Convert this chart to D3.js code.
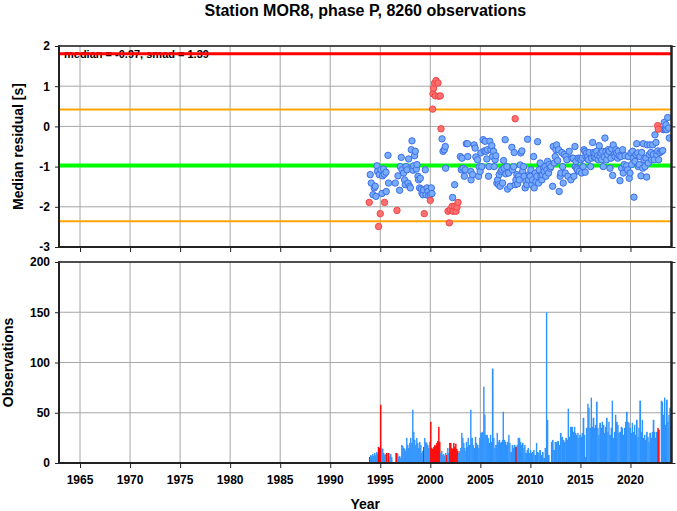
<!DOCTYPE html>
<html><head><meta charset="utf-8">
<script src="https://cdn.jsdelivr.net/npm/d3@7"></script>
<style>
body{margin:0;background:#fff}
svg{display:block}
text{font-family:"Liberation Sans",Arial,Helvetica,sans-serif;font-weight:bold;fill:#000}
</style>
</head><body>
<svg id="chart" width="677" height="511"></svg>
<script>
// ---------------- DATA ----------------
const title = "Station MOR8, phase P, 8260 observations";
const statsLabel = "median = -0.97, smad = 1.39";
const refLines = [
  {name:"upper2", value:1.81, color:"#ff0000", width:3},
  {name:"upper1", value:0.42, color:"#ffa500", width:2.2},
  {name:"median", value:-0.97, color:"#00ff00", width:4},
  {name:"lower1", value:-2.36, color:"#ffa500", width:2.2}
];
const yearTicks = [1965,1970,1975,1980,1985,1990,1995,2000,2005,2010,2015,2020];
const residualTicks = [-3,-2,-1,0,1,2];
const obsTicks = [0,50,100,150,200];
const yearDomain = [1962.9, 2024.1];

const blueResiduals = [
[1994.00,-1.20],[1994.10,-1.41],[1994.27,-1.70],[1994.40,-1.53],[1994.50,-1.49],[1994.57,-1.74],[1994.67,-0.98],[1994.73,-1.12],[1994.90,-1.20],
[1995.07,-1.08],[1995.17,-1.67],[1995.23,-1.23],[1995.33,-1.06],[1995.40,-1.19],[1995.57,-1.14],[1995.60,-1.62],[1995.77,-0.72],[1995.83,-1.41],
[1996.50,-1.41],[1996.77,-1.23],[1996.93,-1.59],[1997.00,-1.00],[1997.10,-0.77],[1997.17,-1.08],[1997.33,-1.16],[1997.43,-1.33],[1997.50,-1.45],
[1997.57,-1.00],[1997.67,-1.08],[1997.77,-1.41],[1997.83,-0.81],[1997.93,-1.49],[1998.00,-1.53],[1998.10,-0.58],[1998.17,-0.36],[1998.27,-1.09],
[1998.33,-0.98],[1998.43,-0.73],[1998.50,-0.62],[1998.60,-1.06],[1998.67,-0.95],[1998.77,-1.24],[1998.83,-1.33],[1998.93,-1.53],[1999.00,-1.29],
[1999.10,-1.56],[1999.17,-1.66],[1999.27,-1.70],[1999.33,-1.58],[1999.50,-1.08],[1999.57,-1.70],[1999.67,-1.53],[1999.77,-1.62],[1999.83,-1.72],
[2000.00,-1.70],[2000.10,-1.53],[2000.17,-1.67],[2001.17,-0.31],[2001.27,-0.62],[2001.40,-0.58],[2001.50,-0.50],[2001.53,-1.04],[2002.23,-1.77],
[2002.43,-1.45],[2003.00,-0.75],[2003.10,-1.08],[2003.17,-0.79],[2003.27,-1.04],[2003.40,-1.24],[2003.50,-1.08],[2003.60,-0.43],
[2003.72,-0.43],[2003.74,-0.75],[2004.05,-1.12],[2004.07,-1.33],[2004.22,-1.20],[2004.38,-0.46],[2004.48,-0.54],[2004.55,-0.76],[2004.72,-0.83],
[2004.82,-1.24],[2004.88,-1.01],[2004.98,-1.12],[2005.05,-0.66],[2005.15,-1.00],[2005.28,-0.33],[2005.38,-0.61],[2005.48,-0.37],[2005.55,-0.62],
[2005.65,-0.81],[2005.72,-0.58],[2005.82,-1.24],[2005.88,-1.00],[2005.95,-0.37],[2006.05,-0.58],[2006.15,-0.48],[2006.22,-0.75],[2006.32,-0.62],
[2006.38,-1.00],[2006.48,-0.83],[2006.55,-0.73],[2006.65,-1.41],[2006.72,-1.33],[2006.82,-1.45],[2006.88,-1.20],[2006.98,-1.49],[2007.05,-1.12],
[2007.15,-1.08],[2007.22,-1.41],[2007.32,-0.85],[2007.38,-1.04],[2007.48,-0.33],[2007.55,-1.18],[2007.65,-1.00],[2007.72,-1.56],[2007.82,-1.16],
[2007.98,-1.49],[2008.15,-0.52],[2008.22,-1.08],[2008.32,-1.00],[2008.38,-0.65],[2008.48,-1.45],[2008.55,-1.33],[2008.65,-1.20],[2008.72,-1.43],
[2008.82,-1.24],[2008.88,-1.33],[2008.98,-0.96],[2009.05,-0.66],[2009.15,-0.61],[2009.22,-1.12],[2009.32,-1.00],[2009.38,-1.24],[2009.48,-1.53],
[2009.55,-1.37],[2009.65,-1.45],[2009.72,-0.32],[2009.82,-1.33],[2009.88,-1.20],[2009.98,-1.24],[2010.05,-1.08],[2010.15,-1.45],[2010.22,-1.33],
[2010.32,-0.75],[2010.38,-1.53],[2010.48,-1.16],[2010.55,-1.37],[2010.65,-1.24],[2010.72,-0.38],[2010.82,-1.41],[2010.88,-1.08],[2010.98,-0.91],
[2011.05,-1.24],[2011.15,-1.33],[2011.22,-1.20],[2011.32,-1.04],[2011.38,-1.12],[2011.48,-1.00],[2011.55,-1.24],[2011.65,-1.08],[2011.72,-0.87],
[2011.82,-1.16],[2011.88,-0.95],[2011.98,-1.04],[2012.05,-1.00],[2012.22,-1.49],[2012.28,-0.50],[2012.38,-0.91],[2012.48,-0.75],[2012.55,-0.58],
[2012.62,-0.46],[2012.72,-0.85],[2012.82,-0.58],[2012.88,-1.62],[2012.98,-1.24],[2013.05,-1.16],[2013.15,-0.65],[2013.22,-1.00],[2013.28,-1.41],
[2013.38,-0.70],[2013.48,-1.16],[2013.55,-0.75],[2013.65,-0.83],[2013.75,-1.24],[2013.88,-0.62],[2014.05,-1.33],[2014.15,-0.79],
[2014.28,-0.79],[2014.35,-1.24],[2014.45,-0.50],[2014.48,-1.00],[2014.55,-0.87],[2014.62,-1.04],[2014.68,-1.08],[2014.78,-0.79],[2014.88,-1.12],
[2014.95,-0.79],[2015.05,-0.83],[2015.12,-1.16],[2015.22,-0.79],[2015.28,-1.00],[2015.35,-0.58],[2015.45,-0.62],[2015.48,-1.14],[2015.55,-0.75],
[2015.62,-0.66],[2015.72,-0.76],[2015.78,-0.83],[2015.88,-0.65],[2016.02,-1.00],[2016.12,-0.79],[2016.22,-0.40],[2016.28,-0.65],[2016.38,-0.76],
[2016.45,-0.66],[2016.55,-0.79],[2016.62,-0.62],[2016.72,-0.73],[2016.78,-0.83],[2016.88,-0.48],[2016.95,-0.75],[2017.05,-0.66],[2017.12,-0.83],
[2017.22,-0.62],[2017.28,-1.00],[2017.38,-0.76],[2017.45,-0.29],[2017.55,-0.62],[2017.62,-0.83],[2017.72,-0.70],[2017.78,-0.58],[2017.88,-0.62],
[2017.95,-1.04],[2018.05,-0.79],[2018.12,-0.56],[2018.22,-1.22],[2018.28,-0.46],[2018.38,-0.70],[2018.45,-0.75],[2018.55,-0.58],[2018.62,-0.66],
[2018.72,-0.79],[2018.78,-0.62],[2018.88,-0.73],[2018.95,-1.35],[2019.05,-0.75],[2019.12,-1.04],[2019.22,-0.58],[2019.28,-1.16],[2019.38,-0.95],
[2019.45,-0.73],[2019.55,-1.04],[2019.62,-0.98],[2019.72,-1.08],[2019.78,-0.75],[2019.88,-1.29],[2019.95,-1.16],[2020.05,-0.66],[2020.12,-0.95],
[2020.22,-0.62],[2020.28,-0.79],[2020.35,-1.76],[2020.45,-0.87],[2020.55,-0.70],[2020.62,-0.43],[2020.72,-0.66],[2020.78,-1.00],[2020.88,-0.95],
[2020.95,-0.75],[2021.05,-1.23],[2021.12,-0.65],[2021.22,-1.04],[2021.28,-0.43],[2021.35,-0.83],[2021.45,-1.00],[2021.55,-0.79],[2021.62,-1.26],
[2021.68,-0.46],[2021.78,-0.91],[2021.88,-0.70],[2021.95,-0.46],[2022.05,-0.65],[2022.12,-0.83],[2022.22,-0.46],[2022.28,-0.70],[2022.38,-0.83],
[2022.45,-0.21],[2022.55,-0.40],[2022.62,-0.70],[2022.72,-0.61],[2022.82,-0.83],[2022.95,-0.65],[2023.12,-0.62],[2023.22,-0.60],[2023.28,-0.08],
[2023.38,0.10],[2023.48,-0.08],[2023.55,0.04],[2023.62,-0.08],[2023.72,0.22],[2023.82,-0.04],[2023.88,-0.29]
];
const redResiduals = [
[1993.90,-1.89],[1994.83,-2.49],[1995.00,-2.17],[1995.43,-1.89],[1996.67,-2.09],[1999.40,-2.17],[2000.00,-1.84],
[2000.23,0.43],[2000.27,0.81],[2000.33,0.95],[2000.43,1.08],[2000.50,0.76],[2000.57,1.14],[2000.77,1.08],[2000.83,0.75],[2001.00,0.76],
[2001.07,-0.06],[2001.77,-2.11],[2001.90,-2.40],[2002.00,-2.07],[2002.17,-1.99],[2002.27,-2.11],[2002.43,-1.99],[2002.57,-2.11],
[2002.67,-2.01],[2002.77,-1.89],[2008.48,0.19],[2022.72,0.02],[2022.78,-0.07]
];

const obsYears = [
1993.88,1993.98,1994.08,1994.18,1994.28,1994.38,1994.48,1994.58,1994.68,1994.75,1994.85,1994.98,1995.08,1995.18,1995.28,1995.38,1995.48,1995.58,
1995.68,1995.78,1995.88,1995.98,1996.08,1996.18,1996.48,1996.58,1996.68,1996.78,1996.88,1996.98,1997.08,1997.18,1997.28,1997.38,1997.48,1997.58,
1997.68,1997.78,1997.88,1997.98,1998.08,1998.18,1998.28,1998.38,1998.48,1998.58,1998.68,1998.78,1998.88,1998.98,1999.08,1999.18,1999.28,1999.38,
1999.48,1999.58,1999.68,1999.78,1999.88,1999.98,2000.08,2000.18,2000.28,2000.38,2000.48,2000.58,2000.68,2000.78,2000.88,2000.98,2001.08,2001.18,
2001.28,2001.38,2001.48,2001.58,2001.68,2001.78,2001.88,2001.98,2002.08,2002.18,2002.28,2002.38,2002.48,2002.58,2002.68,2002.78,2002.88,2002.98,
2003.08,2003.18,2003.28,2003.38,2003.48,
2003.55,2003.65,2003.72,2003.82,2003.98,2004.08,2004.22,2004.32,2004.45,2004.55,2004.65,2004.78,2004.88,2004.98,2005.12,2005.22,2005.28,2005.38,
2005.48,2005.62,2005.72,2005.82,2005.95,2006.05,2006.15,2006.28,2006.38,2006.48,2006.62,2006.72,2006.82,2006.95,2007.05,2007.15,2007.22,2007.32,
2007.45,2007.55,2007.65,2007.78,2007.88,2007.98,2008.12,2008.22,2008.32,2008.48,2008.62,2008.72,2008.82,2008.95,2009.05,2009.15,2009.28,2009.38,
2009.48,2009.62,2009.72,2009.82,2009.95,2010.05,2010.15,2010.28,2010.38,2010.55,2010.65,2010.78,2010.88,2011.02,2011.15,2011.28,2011.42,2011.55,
2011.65,2011.75,2011.88,2012.05,2012.15,2012.28,2012.42,2012.55,2012.68,2012.82,2012.95,2013.08,2013.22,2013.35,2013.48,2013.62,2013.72,2013.82,
2013.95,
2014.22,2014.35,2014.45,2014.55,2014.68,2014.78,2014.88,2015.02,2015.12,2015.22,2015.35,2015.45,2015.55,2015.68,2015.78,2015.88,2016.02,2016.12,
2016.22,2016.35,2016.45,2016.55,2016.68,2016.78,2016.88,2017.02,2017.12,2017.22,2017.35,2017.45,2017.55,2017.68,2017.78,2017.88,2018.02,2018.12,
2018.22,2018.35,2018.45,2018.55,2018.68,2018.78,2018.88,2019.02,2019.12,2019.22,2019.35,2019.45,2019.55,2019.68,2019.78,2019.88,2020.02,2020.12,
2020.22,2020.35,2020.45,2020.55,2020.68,2020.78,2020.88,2021.02,2021.12,2021.22,2021.35,2021.45,2021.55,2021.68,2021.78,2021.88,2022.02,2022.12,
2022.22,2022.35,2022.45,2022.55,2022.68,2022.78,2022.88,2023.02,2023.12,2023.22,2023.35,2023.45,2023.55,2023.68,2023.78,2023.88,2024.00
];
const obsCounts = [
6,8,7,9,7,10,8,11,9,16,15,58,15,14,10,8,9,10,
9,10,7,9,6,0,10,10,9,6,7,5,18,17,15,14,12,25,
18,15,20,25,20,53,31,23,18,25,20,15,21,18,10,12,16,25,
21,20,18,15,21,41,15,14,16,18,17,20,22,36,21,10,12,8,
9,7,10,8,15,10,20,20,15,14,20,16,19,14,12,10,12,15,
30,25,20,15,12,
21,16,25,18,53,25,18,15,26,20,18,15,25,30,31,30,76,48,
28,28,25,20,28,21,94,25,15,18,30,21,23,20,21,23,51,23,
21,18,21,28,20,11,18,15,18,16,18,25,25,21,18,20,15,18,
10,13,15,10,13,10,11,13,8,20,11,10,13,8,11,5,15,150,
43,8,0,21,23,13,21,21,22,18,30,26,23,21,25,23,54,26,
36,
31,36,30,28,30,25,28,26,30,45,28,6,35,59,55,35,65,36,
45,35,38,61,35,28,40,35,41,38,30,36,45,31,41,28,35,62,
25,31,48,41,38,30,31,36,35,28,35,41,51,41,40,35,30,40,
31,38,28,43,26,35,62,31,43,25,28,23,31,26,21,30,25,31,
43,31,25,31,35,33,1,62,61,48,65,38,63,41,48,55,50
];
// 1 = flagged (drawn red)
const obsFlagged = [
1,0,0,0,0,0,0,0,0,1,1,1,0,0,0,0,0,1,
0,1,0,0,0,0,0,1,0,0,0,0,0,0,0,0,0,0,
0,0,0,0,0,0,0,0,0,0,0,0,0,0,0,0,1,0,
0,0,0,0,0,1,1,1,1,1,1,1,1,1,1,0,0,0,
0,0,0,1,0,0,1,1,1,1,1,1,1,1,1,0,0,0,
0,0,0,0,0,
0,0,0,0,0,0,0,0,0,0,0,0,0,0,0,0,0,0,
0,0,0,0,0,0,0,0,0,0,0,0,0,0,0,0,0,0,
0,0,0,0,0,0,0,0,0,1,0,0,0,0,0,0,0,0,
0,0,0,0,0,0,0,0,0,0,0,0,0,0,0,0,0,0,
0,0,0,0,0,0,0,0,0,0,0,0,0,0,0,0,0,0,
0,
0,0,0,0,0,0,0,0,0,0,0,0,0,0,0,0,0,0,
0,0,0,0,0,0,0,0,0,0,0,0,0,0,0,0,0,0,
0,0,0,0,0,0,0,0,0,0,0,0,0,0,0,0,0,0,
0,0,0,0,0,0,0,0,0,0,0,0,0,0,0,0,0,0,
0,0,0,0,1,1,0,0,0,0,0,0,0,0,0,0,0
];

// ---------------- LAYOUT ----------------
const svg = d3.select("#chart");
const L = 59, R = 671.5;
const top1 = 46, bot1 = 247;
const top2 = 262, bot2 = 463;
const gridColor = "#a6a6a6";
const frameColor = "#222";

const x = d3.scaleLinear().domain(yearDomain).range([L, R]);
const yRes = d3.scaleLinear().domain([-3, 2]).range([bot1, top1]);
const yObs = d3.scaleLinear().domain([0, 200]).range([bot2, top2]);

// Title
svg.append("text").attr("x", (L + R) / 2).attr("y", 16).attr("text-anchor", "middle")
  .style("font-size", "16px").text(title);

function panel(y, top, bot, ticks, clipId) {
  const g = svg.append("g");
  g.selectAll("line.vg").data(yearTicks).join("line")
    .attr("x1", d => x(d)).attr("x2", d => x(d)).attr("y1", top).attr("y2", bot)
    .attr("stroke", gridColor).attr("stroke-width", 1);
  g.selectAll("line.hg").data(ticks).join("line")
    .attr("x1", L).attr("x2", R).attr("y1", d => y(d)).attr("y2", d => y(d))
    .attr("stroke", gridColor).attr("stroke-width", 1);
  svg.append("clipPath").attr("id", clipId).append("rect")
    .attr("x", L).attr("y", top).attr("width", R - L).attr("height", bot - top);
  return g;
}

function frame(y, ticks, top, bot) {
  const g = svg.append("g");
  const ax = g.append("g").attr("transform", `translate(${L},0)`)
    .call(d3.axisLeft(y).tickValues(ticks).tickSize(4).tickPadding(5).tickFormat(d => String(d)));
  ax.select(".domain").remove();
  ax.selectAll("text").style("font-size", "12px").style("font-family", '"Liberation Sans",Arial,sans-serif').style("font-weight", "bold").attr("fill", "#000");
  ax.selectAll("line").attr("stroke", frameColor);
  const axr = g.append("g").attr("transform", `translate(${R},0)`)
    .call(d3.axisRight(y).tickValues(ticks).tickSize(4).tickFormat(""));
  axr.select(".domain").remove();
  axr.selectAll("line").attr("stroke", frameColor);
  const axb = g.append("g").attr("transform", `translate(0,${bot})`)
    .call(d3.axisBottom(x).tickValues(yearTicks).tickSize(5).tickFormat(""));
  axb.select(".domain").remove();
  axb.selectAll("line").attr("stroke", frameColor);
  g.append("line").attr("x1", L).attr("x2", R).attr("y1", top).attr("y2", top).attr("stroke", frameColor).attr("stroke-width", 1.5);
  g.append("line").attr("x1", L).attr("x2", R).attr("y1", bot).attr("y2", bot).attr("stroke", frameColor).attr("stroke-width", 2);
  g.append("line").attr("x1", L).attr("x2", L).attr("y1", top - 0.75).attr("y2", bot + 1).attr("stroke", frameColor).attr("stroke-width", 2);
  g.append("line").attr("x1", R).attr("x2", R).attr("y1", top - 0.75).attr("y2", bot + 1).attr("stroke", frameColor).attr("stroke-width", 2.5);
}

// ----- Top panel -----
panel(yRes, top1, bot1, residualTicks, "clip1");
svg.append("text").attr("x", 64).attr("y", 57.5).style("font-size", "11px").text(statsLabel);
const g1 = svg.append("g").attr("clip-path", "url(#clip1)");
g1.selectAll("line.ref").data(refLines).join("line")
  .attr("x1", L).attr("x2", R).attr("y1", d => yRes(d.value)).attr("y2", d => yRes(d.value))
  .attr("stroke", d => d.color).attr("stroke-width", d => d.width);
g1.selectAll("circle.b").data(blueResiduals).join("circle")
  .attr("cx", d => x(d[0])).attr("cy", d => yRes(d[1])).attr("r", 3.2)
  .attr("fill", "#78acff").attr("stroke", "#3d70e6").attr("stroke-width", 1);
g1.selectAll("circle.r").data(redResiduals).join("circle")
  .attr("cx", d => x(d[0])).attr("cy", d => yRes(d[1])).attr("r", 3.2)
  .attr("fill", "#ff7070").attr("stroke", "#f04545").attr("stroke-width", 1);
frame(yRes, residualTicks, top1, bot1);

// ----- Bottom panel -----
panel(yObs, top2, bot2, obsTicks, "clip2");
const g2 = svg.append("g").attr("clip-path", "url(#clip2)");
const bars = obsYears.slice(0, -1).map((yr, i) => ({
  x0: yr, x1: obsYears[i + 1], n: obsCounts[i], red: obsFlagged[i] === 1
}));
g2.selectAll("rect").data(bars).join("rect")
  .attr("x", d => x(d.x0)).attr("width", d => Math.max(1.2, x(d.x1) - x(d.x0) + 0.4))
  .attr("y", d => yObs(d.n)).attr("height", d => yObs(0) - yObs(d.n))
  .attr("fill", d => d.red ? "#ff0000" : "#2f93ff");
frame(yObs, obsTicks, top2, bot2);

// x tick labels
svg.append("g").selectAll("text").data(yearTicks).join("text")
  .attr("x", d => x(d)).attr("y", 484).attr("text-anchor", "middle")
  .style("font-size", "12px").text(d => d);

// axis titles
svg.append("text").attr("transform", `translate(23,${(top1 + bot1) / 2}) rotate(-90)`)
  .attr("text-anchor", "middle").style("font-size", "14px").text("Median residual [s]");
svg.append("text").attr("transform", `translate(13,${(top2 + bot2) / 2}) rotate(-90)`)
  .attr("text-anchor", "middle").style("font-size", "14px").text("Observations");
svg.append("text").attr("x", (L + R) / 2).attr("y", 509).attr("text-anchor", "middle")
  .style("font-size", "14px").text("Year");
</script>
</body></html>
